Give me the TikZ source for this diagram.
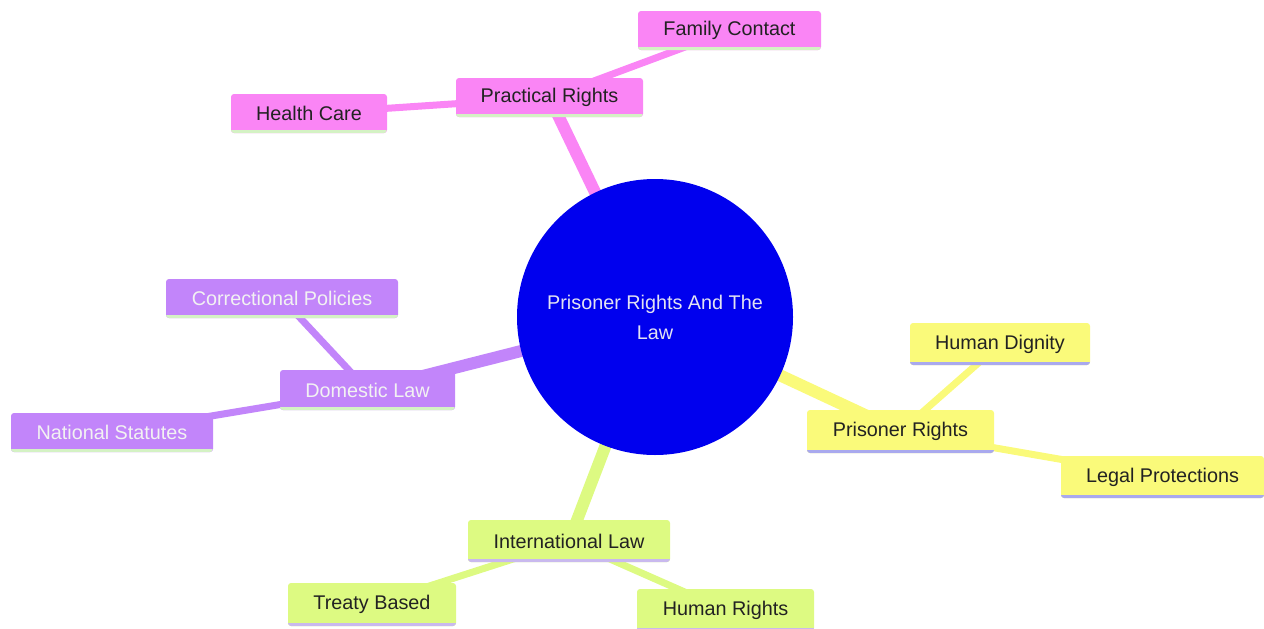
\documentclass[tikz,border=0pt]{standalone}
\usepackage{fontspec}
\setmainfont{Liberation Sans}
\usetikzlibrary{backgrounds}
\definecolor{cpink}{HTML}{FA85F5}
\definecolor{cpurple}{HTML}{C285FA}
\definecolor{cyellow}{HTML}{FAFA7A}
\definecolor{cgreen}{HTML}{DDFA82}
\definecolor{croot}{HTML}{0000EE}
\definecolor{lpink}{HTML}{D4F2C4}
\definecolor{lyellow}{HTML}{A9A9EE}
\definecolor{lgreen}{HTML}{C9B9EE}
\definecolor{tdark}{HTML}{222222}
\definecolor{tlight}{HTML}{F2F2F2}
\definecolor{troot}{HTML}{E2E2F2}
\tikzset{
  x=1pt, y=-1pt,
  every node/.style={font=\fontsize{19.8}{30}\selectfont, inner sep=0pt},
  box/.style n args={3}{rectangle, rounded corners=3pt, fill=#1, text=#3,
    path picture={\draw[line width=6pt, #2] (path picture bounding box.south west) -- (path picture bounding box.south east);}},
  pinkbox/.style={box={cpink}{lpink}{tdark}},
  purplebox/.style={box={cpurple}{lpink}{tlight}},
  yellowbox/.style={box={cyellow}{lyellow}{tdark}},
  greenbox/.style={box={cgreen}{lgreen}{tdark}},
  sz/.style 2 args={minimum width=#1pt, minimum height=#2pt},
  trunk/.style={line width=12pt, #1},
  twig/.style={line width=7pt, #1},
}
\begin{document}
\begin{tikzpicture}
\useasboundingbox (0,0) rectangle (1264,629);
% root
\node[circle, fill=croot, text=troot, minimum size=276pt, align=center] (root) at (655,317) {Prisoner Rights And The\\Law};
% pink branch
\node[pinkbox, sz={187}{39}] (pr) at (549.5,97.5) {Practical Rights};
\node[pinkbox, sz={183}{39}] (fc) at (729.5,30.5) {Family Contact};
\node[pinkbox, sz={156}{39}] (hc) at (309,113.5) {Health Care};
% purple branch
\node[purplebox, sz={175}{40}] (dl) at (367.5,390) {Domestic Law};
\node[purplebox, sz={232}{39}] (cp) at (282,298.5) {Correctional Policies};
\node[purplebox, sz={202}{39}] (ns) at (112,432.5) {National Statutes};
% yellow branch
\node[yellowbox, sz={187}{43}] (prr) at (900.5,431.5) {Prisoner Rights};
\node[yellowbox, sz={180}{42}] (hd) at (1000,344) {Human Dignity};
\node[yellowbox, sz={203}{42}] (lp) at (1162.5,477) {Legal Protections};
% green branch
\node[greenbox, sz={202}{42}] (il) at (569,541) {International Law};
\node[greenbox, sz={168}{43}] (tb) at (372,604.5) {Treaty Based};
\node[greenbox, sz={177}{42}] (hr) at (725.5,610) {Human Rights};
\begin{pgfonlayer}{background}
\draw[trunk=cpink] (root.center) -- (pr.center);
\draw[twig=cpink] (pr.center) -- (fc.center);
\draw[twig=cpink] (pr.center) -- (hc.center);
\draw[trunk=cpurple] (root.center) -- (dl.center);
\draw[twig=cpurple] (dl.center) -- (cp.center);
\draw[twig=cpurple] (dl.center) -- (ns.center);
\draw[trunk=cyellow] (root.center) -- (prr.center);
\draw[twig=cyellow] (prr.center) -- (hd.center);
\draw[twig=cyellow] (prr.center) -- (lp.center);
\draw[trunk=cgreen] (root.center) -- (il.center);
\draw[twig=cgreen] (il.center) -- (tb.center);
\draw[twig=cgreen] (il.center) -- (hr.center);
\end{pgfonlayer}
\end{tikzpicture}
\end{document}
